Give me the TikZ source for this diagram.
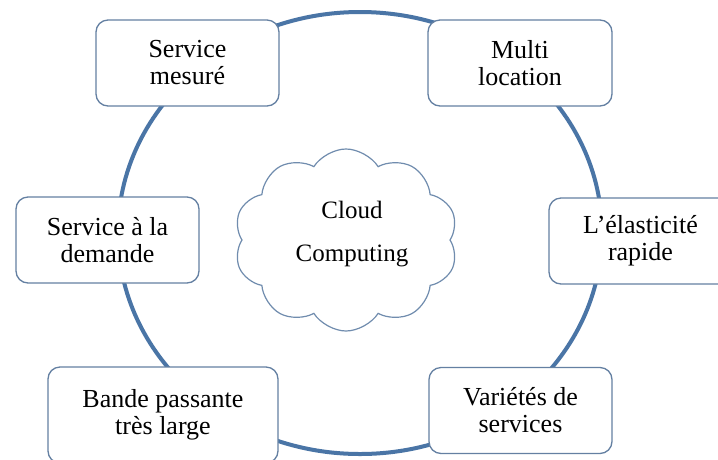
\documentclass[tikz,border=0pt]{standalone}
\usepackage{fontspec}
\setmainfont{Liberation Serif}
\usetikzlibrary{shapes.symbols}
\definecolor{ringblue}{RGB}{74,117,166}
\definecolor{boxline}{RGB}{100,128,162}
\definecolor{cloudline}{RGB}{112,140,174}
\tikzset{
  featurebox/.style={draw=boxline, line width=1.3pt, fill=white,
    rounded corners=12pt, minimum height=86pt, align=center,
    inner sep=0pt, font=\fontsize{26}{27}\selectfont},
  ringline/.style={draw=ringblue, line width=4pt},
  cloudshape/.style={cloud, draw=cloudline, line width=1.2pt, fill=white,
    cloud puffs=10, cloud puff arc=115, aspect=1.25,
    minimum width=224pt, minimum height=182pt, inner sep=0pt}
}
\begin{document}
\begin{tikzpicture}[x=1pt,y=-1pt]
  \useasboundingbox (0,0) rectangle (718,459);
  \clip (0,0) rectangle (718,459);
  \fill[white] (0,0) rectangle (718,459);
  % the ring that links the six characteristics
  \draw[ringline] (360,233) ellipse [x radius=242pt, y radius=221pt];
  % central cloud
  \node[cloudshape] (cloud) at (346,240) {};
  \node[align=center, font=\fontsize{25}{43}\selectfont] (cloudtext) at (352,234) {Cloud\\Computing};
  % the six characteristics
  \node[featurebox, minimum width=183pt] (mesure) at (187.5,63) {Service\\mesuré};
  \node[featurebox, minimum width=184pt] (multi) at (520,63) {Multi\\location};
  \node[featurebox, minimum width=183pt] (demande) at (107.5,240) {Service à la\\demande};
  \node[featurebox, minimum width=183pt] (elastic) at (640.5,241) {L’élasticité\\rapide};
  \node[featurebox, minimum width=230pt, minimum height=96pt] (bande) at (163,415) {Bande passante\\très large};
  \node[featurebox, minimum width=183pt] (variete) at (520.5,410.5) {Variétés de\\services};
\end{tikzpicture}
\end{document}
